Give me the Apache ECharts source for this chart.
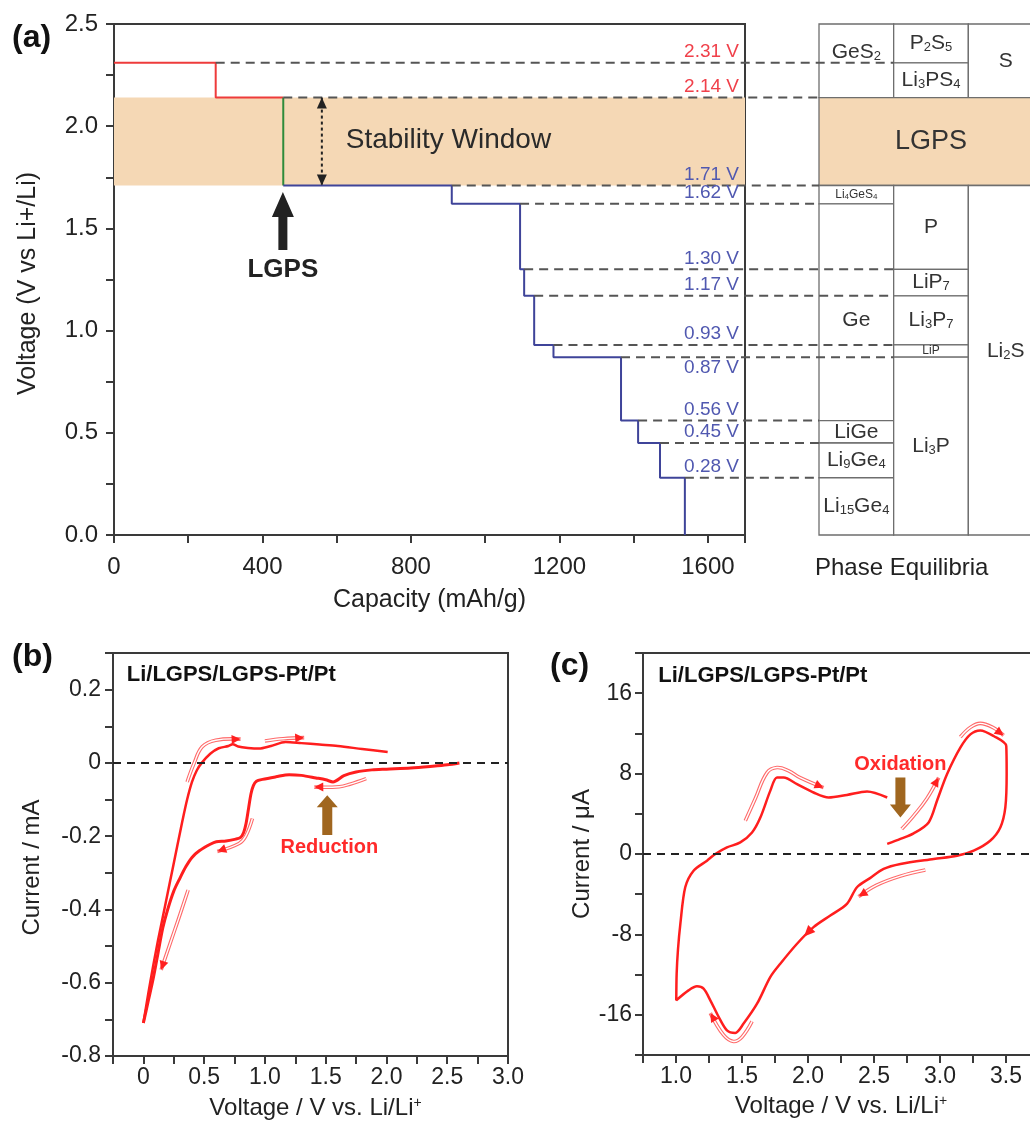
<!DOCTYPE html>
<html><head><meta charset="utf-8">
<script src="https://cdn.jsdelivr.net/npm/echarts@6/dist/echarts.min.js"></script>
<style>html,body{margin:0;padding:0;background:#fff}#c{width:1030px;height:1122px}</style>
</head><body><div id="c"></div>
<script>
// ================= DATA =================
// Panel (a): voltage plateaus vs capacity
const capacityMax = 1700;
const voltageMax = 2.5;
const plateauVoltages = [2.31, 2.14, 1.71, 1.62, 1.30, 1.17, 0.93, 0.87, 0.56, 0.45, 0.28];
const plateauEnds     = [274,  456,  910,  1094, 1105, 1132, 1184, 1366, 1412, 1471, 1538];
const plateauLabels   = ['2.31 V','2.14 V','1.71 V','1.62 V','1.30 V','1.17 V','0.93 V','0.87 V','0.56 V','0.45 V','0.28 V'];
const plateauLabelBelow = [0,0,0,0,0,0,0,1,0,0,0];
const dashEndColumn   = [1,0,0,0,1,1,1,1,0,0,0];
const oxidationCount  = 2;            // plateaus above the stability window
const stabilityWindow = [1.71, 2.14];

// Phase equilibria table (columns 0..3)
const phaseNames    = ['GeS{s|2}','P{s|2}S{s|5}','Li{s|3}PS{s|4}','S','LGPS','Li{t|4}GeS{t|4}','Ge','LiGe','Li{s|9}Ge{s|4}','Li{s|15}Ge{s|4}','P','LiP{s|7}','Li{s|3}P{s|7}','LiP','Li{s|3}P','Li{s|2}S'];
const phaseColStart = [0,1,1,2,0,0,0,0,0,0,1,1,1,1,1,2];
const phaseColEnd   = [1,2,2,3,3,1,1,1,1,1,2,2,2,2,2,3];
const phaseVLow     = [2.14,2.31,2.14,2.14,1.71,1.62,0.56,0.45,0.28,0.00,1.30,1.17,0.93,0.87,0.00,0.00];
const phaseVHigh    = [2.50,2.50,2.31,2.50,2.14,1.71,1.62,0.56,0.45,0.28,1.71,1.30,1.17,0.93,0.87,1.71];
const phaseLabelV   = [2.36,null,null,null,null,null,1.05,null,null,null,null,null,null,null,null,0.90];
const phaseSize     = ['n','n','n','n','big','tiny','n','n','n','n','n','n','n','tiny','n','n'];

// Panel (b): CV, mA vs V
const bAnodicV = [0, 0.04, 0.08, 0.12, 0.16, 0.20, 0.24, 0.28, 0.32, 0.36, 0.40, 0.44, 0.48, 0.55, 0.62, 0.70, 0.735, 0.78, 0.86, 0.95, 1.05, 1.17, 1.30, 1.45, 1.60, 1.80, 2.01];
const bAnodicI = [-0.71, -0.63, -0.555, -0.485, -0.42, -0.355, -0.29, -0.225, -0.16, -0.10, -0.052, -0.02, 0, 0.025, 0.040, 0.046, 0.051, 0.045, 0.041, 0.039, 0.046, 0.057, 0.054, 0.050, 0.046, 0.038, 0.030];
const bCathodicV = [2.60, 2.50, 2.38, 2.20, 2.00, 1.88, 1.75, 1.65, 1.56, 1.50, 1.42, 1.30, 1.20, 1.09, 0.98, 0.93, 0.905, 0.885, 0.865, 0.845, 0.825, 0.80, 0.76, 0.68, 0.60, 0.55, 0.46, 0.40, 0.35, 0.30, 0.25, 0.20, 0.16, 0.12, 0.08, 0.04, 0];
const bCathodicI = [0, -0.005, -0.009, -0.014, -0.017, -0.019, -0.025, -0.035, -0.052, -0.046, -0.041, -0.034, -0.032, -0.038, -0.045, -0.05, -0.062, -0.085, -0.125, -0.165, -0.19, -0.203, -0.208, -0.213, -0.215, -0.222, -0.24, -0.258, -0.283, -0.315, -0.35, -0.40, -0.45, -0.52, -0.59, -0.65, -0.71];

// Panel (c): CV loop, µA vs V
const cV = [2.60, 2.70, 2.80, 2.914, 2.98, 3.053, 3.154, 3.23, 3.305, 3.406, 3.502, 3.505, 3.495, 3.457, 3.38, 3.255, 3.129, 2.952, 2.70, 2.573, 2.47, 2.371, 2.295, 2.169, 2.042, 1.917, 1.79, 1.714, 1.614, 1.512, 1.449, 1.386, 1.323, 1.26, 1.209, 1.159, 1.095, 1.002, 1.005, 1.015, 1.033, 1.07, 1.133, 1.235, 1.298, 1.386, 1.487, 1.576, 1.639, 1.714, 1.765, 1.815, 1.917, 2.042, 2.156, 2.295, 2.447, 2.60];
const cI = [1.0, 1.5, 2.05, 3.14, 5.4, 7.94, 10.58, 11.9, 12.3, 11.74, 10.75, 8.0, 4.63, 2.64, 1.32, 0.33, -0.17, -0.5, -1.0, -1.49, -2.4, -3.31, -4.96, -6.12, -7.28, -8.93, -10.92, -12.25, -14.9, -16.87, -17.8, -17.54, -16.2, -14.56, -13.4, -13.17, -13.57, -14.56, -11.9, -9.5, -6.95, -3.31, -1.66, -0.66, 0, 0.66, 1.15, 2.14, 3.63, 6.28, 7.6, 7.6, 6.95, 6.12, 5.62, 5.88, 6.22, 5.62];

// Direction-indicator paths (data coordinates)
const bArrowPaths = [
  [[0.36,-0.052],[0.416,-0.002],[0.484,0.044],[0.595,0.062],[0.80,0.065]],
  [[1.0,0.060],[1.15,0.066],[1.323,0.069]],
  [[1.833,-0.043],[1.70,-0.058],[1.612,-0.065],[1.406,-0.066]],
  [[0.897,-0.152],[0.842,-0.20],[0.787,-0.22],[0.608,-0.242]],
  [[0.368,-0.347],[0.29,-0.425],[0.223,-0.49],[0.146,-0.565]]
];
const cArrowPaths = [
  [[1.525,3.3],[1.60,5.5],[1.69,8.1],[1.765,8.6],[1.85,8.3],[1.94,7.6],[2.118,6.6]],
  [[2.71,2.48],[2.80,3.8],[2.90,5.5],[2.99,7.6]],
  [[3.154,11.64],[3.23,12.6],[3.305,13.0],[3.40,12.6],[3.482,11.8]],
  [[2.889,-1.59],[2.70,-2.2],[2.52,-3.1],[2.383,-4.24]],
  [[1.576,-16.66],[1.50,-18.2],[1.436,-18.65],[1.36,-18.0],[1.26,-15.83]]
];
const cOnCurveArrow = [[2.03,-7.4],[1.97,-8.2]];

// ================= STYLE / LAYOUT =================
const FONT = '"Liberation Sans", Arial, Helvetica, sans-serif';
const AX = '#3a3a3a';
const RED_STEP = '#EE3B3B', GREEN_STEP = '#2E8B3A', BLUE_STEP = '#3F4499';
const RED_LBL = '#F0404A', BLUE_LBL = '#5058B0';
const BAND = '#F5D8B5';
const CV_RED = '#FF1E1E';
const BROWN = '#A0661F';
const TABLE = {left: 819, top: 24, width: 224, height: 511, cols: 3};

function buildSteps(from, to, startCap, endV) {
  const pts = []; let cap = startCap;
  for (let i = from; i < to; i++) {
    pts.push([cap, plateauVoltages[i]]);
    pts.push([plateauEnds[i], plateauVoltages[i]]);
    cap = plateauEnds[i];
  }
  if (endV !== undefined) pts.push([cap, endV]);
  return pts;
}
const redSteps = buildSteps(0, oxidationCount, 0);
const greenStep = [[plateauEnds[oxidationCount-1], plateauVoltages[oxidationCount-1]], [plateauEnds[oxidationCount-1], plateauVoltages[oxidationCount]]];
const blueSteps = buildSteps(oxidationCount, plateauVoltages.length, plateauEnds[oxidationCount-1], 0);
const zip = (a, b) => a.map((v, i) => [v, b[i]]);

function axisBase(extra) {
  return Object.assign({
    type: 'value',
    splitLine: {show: false},
    minorTick: {show: false},
    axisLine: {show: true, onZero: false, lineStyle: {color: AX, width: 2}},
    axisTick: {show: true, inside: false, length: 8, lineStyle: {color: AX, width: 2}},
    nameLocation: 'middle'
  }, extra);
}
function labelStyle(size, margin, formatter) {
  return {show: true, color: '#222', fontSize: size, fontFamily: FONT, margin: margin, formatter: formatter};
}
function nameStyle(size, padding) {
  const s = {color: '#222', fontSize: size, fontFamily: FONT,
    rich: {sup: {fontSize: 14, verticalAlign: 'top', fontFamily: FONT, color: '#222'}}};
  if (padding) s.padding = padding;
  return s;
}

// ---- helpers for custom drawings ----
function headPts(tip, from, len, hw) {
  const dx = tip[0] - from[0], dy = tip[1] - from[1];
  const L = Math.hypot(dx, dy) || 1; const ux = dx / L, uy = dy / L; const nx = -uy, ny = ux;
  const bx = tip[0] - ux * len, by = tip[1] - uy * len;
  return [[tip[0], tip[1]], [bx + nx * hw, by + ny * hw], [bx - nx * hw, by - ny * hw]];
}
function blockArrow(tail, tip, sw, hw, hl, color) {
  const dx = tip[0] - tail[0], dy = tip[1] - tail[1];
  const L = Math.hypot(dx, dy) || 1; const ux = dx / L, uy = dy / L; const nx = -uy, ny = ux;
  const nk = [tip[0] - ux * hl, tip[1] - uy * hl];
  return {type: 'polygon', shape: {points: [
    [tail[0] + nx * sw, tail[1] + ny * sw], [nk[0] + nx * sw, nk[1] + ny * sw], [nk[0] + nx * hw, nk[1] + ny * hw],
    [tip[0], tip[1]],
    [nk[0] - nx * hw, nk[1] - ny * hw], [nk[0] - nx * sw, nk[1] - ny * sw], [tail[0] - nx * sw, tail[1] - ny * sw]
  ]}, style: {fill: color}};
}
function annotSeries(xi, yi, items, z) {
  return {
    type: 'custom', xAxisIndex: xi, yAxisIndex: yi, clip: false, silent: true, z: z,
    data: items.map((it, i) => [it.x !== undefined ? it.x : (it.pts ? it.pts[0][0] : it.from[0]), it.y !== undefined ? it.y : (it.pts ? it.pts[0][1] : it.from[1]), i]),
    renderItem: function (params, api) {
      const it = items[params.dataIndex];
      if (it.kind === 'text') {
        const p = api.coord([it.x, it.y]);
        return {type: 'text', x: p[0], y: p[1], style: {text: it.text, fill: it.color || '#222', fontSize: it.size,
          fontWeight: it.bold ? 'bold' : 'normal', fontFamily: FONT, align: it.align || 'center', verticalAlign: 'middle'}};
      }
      if (it.kind === 'block') {
        return blockArrow(api.coord(it.from), api.coord(it.to), it.sw, it.hw, it.hl, it.color);
      }
      if (it.kind === 'dotted') {
        const a = api.coord(it.from), b = api.coord(it.to);
        return {type: 'group', children: [
          {type: 'line', shape: {x1: a[0], y1: a[1], x2: b[0], y2: b[1]}, style: {stroke: '#222', lineWidth: 2, lineDash: [3, 3]}},
          {type: 'polygon', shape: {points: headPts(a, b, 11, 5)}, style: {fill: '#222'}},
          {type: 'polygon', shape: {points: headPts(b, a, 11, 5)}, style: {fill: '#222'}}
        ]};
      }
      if (it.kind === 'curve') {
        const pts = it.pts.map(p => api.coord(p));
        const n = pts.length;
        const children = [];
        if (!it.headOnly) {
          children.push({type: 'polyline', shape: {points: pts, smooth: 0.4}, style: {stroke: '#FF6A6A', lineWidth: 3.6, fill: 'none'}});
          children.push({type: 'polyline', shape: {points: pts, smooth: 0.4}, style: {stroke: '#FFFFFF', lineWidth: 1.4, fill: 'none'}});
        }
        children.push({type: 'polygon', shape: {points: headPts(pts[n - 1], pts[n - 2], it.headOnly ? 11 : 9, it.headOnly ? 5 : 4.5)}, style: {fill: '#FF2020'}});
        return {type: 'group', children: children};
      }
      return null;
    }
  };
}

// ---- annotation lists ----
const aAnnots = [
  {kind: 'text', x: 901, y: 1.933, text: 'Stability Window', size: 28, color: '#2a2a2a'},
  {kind: 'block', from: [455, 1.394], to: [455, 1.678], sw: 4.5, hw: 11, hl: 25, color: '#222'},
  {kind: 'text', x: 455, y: 1.297, text: 'LGPS', size: 26, bold: true, color: '#222'},
  {kind: 'dotted', from: [560, stabilityWindow[1]], to: [560, stabilityWindow[0]]}
];
const bAnnots = [
  {kind: 'text', x: -0.137, y: 0.239, text: 'Li/LGPS/LGPS-Pt/Pt', size: 22, bold: true, align: 'left', color: '#111'},
  {kind: 'text', x: 1.53, y: -0.232, text: 'Reduction', size: 20, bold: true, color: '#FF2A2A'},
  {kind: 'block', from: [1.513, -0.197], to: [1.513, -0.088], sw: 5, hw: 10.5, hl: 12, color: BROWN}
].concat(bArrowPaths.map(p => ({kind: 'curve', pts: p})));
const cAnnots = [
  {kind: 'text', x: 0.866, y: 17.7, text: 'Li/LGPS/LGPS-Pt/Pt', size: 22, bold: true, align: 'left', color: '#111'},
  {kind: 'text', x: 2.70, y: 8.86, text: 'Oxidation', size: 20, bold: true, color: '#FF2A2A'},
  {kind: 'block', from: [2.70, 7.6], to: [2.70, 3.63], sw: 5, hw: 10.5, hl: 13, color: BROWN},
  {kind: 'curve', pts: cOnCurveArrow, headOnly: true}
].concat(cArrowPaths.map(p => ({kind: 'curve', pts: p})));

// ================= CHART =================
const chart = echarts.init(document.getElementById('c'), null, {renderer: 'canvas', width: 1030, height: 1122});

const gridCommon = {show: true, borderColor: AX, borderWidth: 2, backgroundColor: 'transparent', containLabel: false, outerBoundsMode: 'none'};

const option = {
  animation: false,
  textStyle: {fontFamily: FONT},
  grid: [
    Object.assign({left: 114, top: 24, width: 631, height: 511}, gridCommon),
    {left: TABLE.left, top: TABLE.top, width: TABLE.width, height: TABLE.height, show: false, containLabel: false, outerBoundsMode: 'none'},
    Object.assign({left: 113, top: 653, width: 395, height: 403}, gridCommon),
    Object.assign({left: 643, top: 653, width: 396, height: 402}, gridCommon)
  ],
  xAxis: [
    axisBase({gridIndex: 0, min: 0, max: capacityMax, interval: 200,
      axisLabel: labelStyle(24, 20, v => (v % 400 === 0 ? String(v) : '')),
      name: 'Capacity (mAh/g)', nameGap: 53, nameTextStyle: nameStyle(25)}),
    {type: 'value', gridIndex: 1, min: 0, max: TABLE.cols, show: false},
    axisBase({gridIndex: 2, min: -0.25, max: 3.0, interval: 0.25,
      axisLabel: labelStyle(23, 10, v => { const k = Math.round(v * 4); if (k < 0 || k % 2) return ''; return k === 0 ? '0' : (k / 4).toFixed(1); }),
      name: 'Voltage / V vs. Li/Li{sup|+}', nameGap: 40, nameTextStyle: nameStyle(24, [0, 0, 0, 10])}),
    axisBase({gridIndex: 3, min: 0.75, max: 3.75, interval: 0.25,
      axisLabel: labelStyle(23, 10, v => { const k = Math.round(v * 4); return k % 2 ? '' : (k / 4).toFixed(1); }),
      name: 'Voltage / V vs. Li/Li{sup|+}', nameGap: 39, nameTextStyle: nameStyle(24)})
  ],
  yAxis: [
    axisBase({gridIndex: 0, min: 0, max: voltageMax, interval: 0.25,
      axisLabel: labelStyle(24, 16, v => { const k = Math.round(v * 4); return k % 2 ? '' : (k / 4).toFixed(1); }),
      name: 'Voltage (V vs Li+/Li)', nameGap: 73, nameTextStyle: nameStyle(25, [0, 8, 0, 0])}),
    {type: 'value', gridIndex: 1, min: 0, max: voltageMax, show: false},
    axisBase({gridIndex: 2, min: -0.8, max: 0.3, interval: 0.1,
      axisLabel: labelStyle(23, 12, v => { const k = Math.round(v * 10); if (k % 2) return ''; return k === 0 ? '0' : (k / 10).toFixed(1); }),
      name: 'Current / mA', nameGap: 69, nameTextStyle: nameStyle(24, [0, 26, 0, 0])}),
    axisBase({gridIndex: 3, min: -20, max: 20, interval: 4,
      axisLabel: labelStyle(23, 11, v => { const r = Math.round(v); return (r % 8 === 0 && Math.abs(r) < 20) ? String(r) : ''; }),
      name: 'Current / μA', nameGap: 48, nameTextStyle: nameStyle(24)})
  ],
  graphic: [
    {type: 'text', left: 12, top: 22, style: {text: '(a)', fontSize: 32, fontWeight: 'bold', fontFamily: FONT, fill: '#111'}},
    {type: 'text', left: 12, top: 641, style: {text: '(b)', fontSize: 32, fontWeight: 'bold', fontFamily: FONT, fill: '#111'}},
    {type: 'text', left: 550, top: 650, style: {text: '(c)', fontSize: 32, fontWeight: 'bold', fontFamily: FONT, fill: '#111'}},
    {type: 'text', left: 815, top: 556, style: {text: 'Phase Equilibria', fontSize: 24, fontFamily: FONT, fill: '#222'}}
  ],
  series: [
    // stability window band
    {type: 'custom', xAxisIndex: 0, yAxisIndex: 0, silent: true, z: 1, clip: true,
      data: [[0, stabilityWindow[0], stabilityWindow[1]]],
      renderItem: function (params, api) {
        const p1 = api.coord([0, api.value(2)]), p2 = api.coord([capacityMax, api.value(1)]);
        return {type: 'rect', shape: {x: p1[0], y: p1[1], width: p2[0] - p1[0], height: p2[1] - p1[1]}, style: {fill: BAND}};
      }},
    {type: 'line', xAxisIndex: 0, yAxisIndex: 0, data: redSteps, symbol: 'none', silent: true, z: 3, lineStyle: {color: RED_STEP, width: 2}},
    {type: 'line', xAxisIndex: 0, yAxisIndex: 0, data: greenStep, symbol: 'none', silent: true, z: 3, lineStyle: {color: GREEN_STEP, width: 2}},
    {type: 'line', xAxisIndex: 0, yAxisIndex: 0, data: blueSteps, symbol: 'none', silent: true, z: 3, lineStyle: {color: BLUE_STEP, width: 2}},
    // dashed guide lines + plateau labels
    {type: 'custom', xAxisIndex: 0, yAxisIndex: 0, silent: true, z: 5, clip: false,
      data: plateauVoltages.map((v, i) => [plateauEnds[i], v, i]),
      renderItem: function (params, api) {
        const i = api.value(2);
        const p0 = api.coord([api.value(0), api.value(1)]);
        const pr = api.coord([capacityMax, api.value(1)]);
        const endX = TABLE.left + dashEndColumn[i] * TABLE.width / TABLE.cols;
        return {type: 'group', children: [
          {type: 'line', shape: {x1: p0[0], y1: p0[1], x2: endX, y2: p0[1]}, style: {stroke: '#555', lineWidth: 2, lineDash: [9, 6]}},
          {type: 'text', x: pr[0] - 6, y: p0[1] + (plateauLabelBelow[i] ? 11 : -11),
            style: {text: plateauLabels[i], fill: i < oxidationCount ? RED_LBL : BLUE_LBL, fontSize: 19, fontFamily: FONT, align: 'right', verticalAlign: 'middle'}}
        ]};
      }},
    // phase equilibria table
    {type: 'custom', xAxisIndex: 1, yAxisIndex: 1, silent: true, z: 2, clip: false,
      data: phaseNames.map((n, i) => [phaseColStart[i], phaseVLow[i], i]),
      renderItem: function (params, api) {
        const i = api.value(2);
        const p1 = api.coord([phaseColStart[i], phaseVHigh[i]]);
        const p2 = api.coord([phaseColEnd[i], phaseVLow[i]]);
        const cx = (p1[0] + p2[0]) / 2;
        const cy = phaseLabelV[i] !== null ? api.coord([0, phaseLabelV[i]])[1] : (p1[1] + p2[1]) / 2;
        const sz = phaseSize[i] === 'big' ? 27 : (phaseSize[i] === 'tiny' ? 12 : 21);
        const sub = phaseSize[i] === 'tiny' ? 8 : 13;
        return {type: 'group', children: [
          {type: 'rect', shape: {x: p1[0], y: p1[1], width: p2[0] - p1[0], height: p2[1] - p1[1]},
            style: {fill: phaseSize[i] === 'big' ? BAND : '#fff', stroke: '#6e6e6e', lineWidth: 1.3}},
          {type: 'text', x: cx, y: cy, style: {text: phaseNames[i], fill: '#333', fontSize: sz, fontFamily: FONT, align: 'center', verticalAlign: 'middle',
            rich: {s: {fontSize: sub, verticalAlign: 'bottom', fontFamily: FONT, fill: '#333'},
                   t: {fontSize: 8, verticalAlign: 'bottom', fontFamily: FONT, fill: '#333'}}}}
        ]};
      }},
    annotSeries(0, 0, aAnnots, 6),
    // panel (b)
    {type: 'line', xAxisIndex: 2, yAxisIndex: 2, data: zip(bCathodicV, bCathodicI), symbol: 'none', smooth: 0.3, silent: true, z: 3,
      lineStyle: {color: CV_RED, width: 3}},
    {type: 'line', xAxisIndex: 2, yAxisIndex: 2, data: zip(bAnodicV, bAnodicI), symbol: 'none', smooth: 0.3, silent: true, z: 3,
      lineStyle: {color: CV_RED, width: 2.5},
      markLine: {silent: true, symbol: ['none', 'none'], label: {show: false}, lineStyle: {type: [8, 6], color: '#222', width: 2}, data: [{yAxis: 0}]}},
    annotSeries(2, 2, bAnnots, 6),
    // panel (c)
    {type: 'line', xAxisIndex: 3, yAxisIndex: 3, data: zip(cV, cI), symbol: 'none', smooth: 0.3, silent: true, z: 3,
      lineStyle: {color: CV_RED, width: 2.5},
      markLine: {silent: true, symbol: ['none', 'none'], label: {show: false}, lineStyle: {type: [8, 6], color: '#222', width: 2}, data: [{yAxis: 0}]}},
    annotSeries(3, 3, cAnnots, 6)
  ]
};
chart.setOption(option);
</script>
</body></html>
